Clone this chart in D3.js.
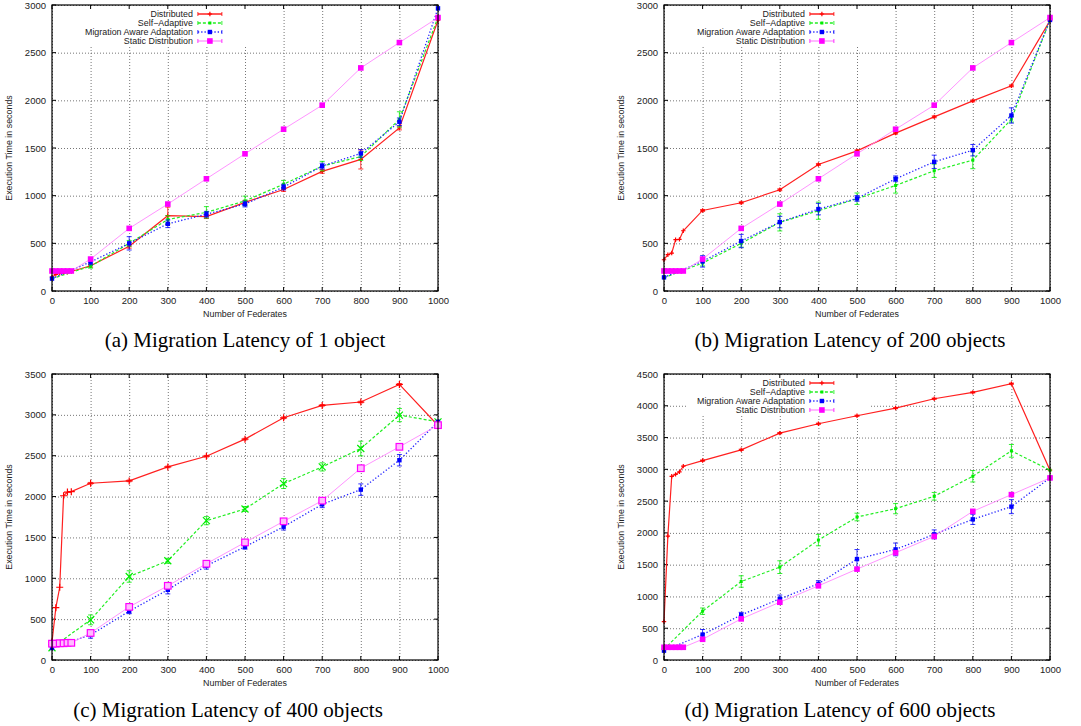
<!DOCTYPE html>
<html>
<head>
<meta charset="utf-8">
<script src="https://cdn.jsdelivr.net/npm/d3@7"></script>
<style>
    body { margin: 0; background: #fff; }
    svg text { font-family: "Liberation Sans", Arial, sans-serif; fill: #222; }
    .caption { font-family: "Liberation Serif", "Times New Roman", serif; fill: #000; }
</style>
</head>
<body>
<div id="chart"></div>
<script>

/* * * * * * * * * * * * * *
*          data            *
* * * * * * * * * * * * * */

let federates = [0, 10, 20, 30, 40, 50, 100, 200, 300, 400, 500, 600, 700, 800, 900, 1000];
let seriesNames = ["Distributed", "Self\u2212Adaptive", "Migration Aware Adaptation", "Static Distribution"];

// (a) 1 object
let aDistributed    = [145, 175, 185, 190, 195, 205, 265, 470, 790, 780, 930, 1065, 1255, 1380, 1710, 2840];
let aSelfAdaptive   = [130, null, null, null, null, null, 260, 500, 750, 825, 945, 1120, 1310, 1410, 1800, 2870];
let aMigrationAware = [130, null, null, null, null, null, 305, 500, 705, 805, 912, 1090, 1310, 1443, 1775, 2965];
let aStatic         = [210, 210, 210, 210, 210, 210, 335, 657, 912, 1177, 1439, 1697, 1949, 2340, 2606, 2868];
let aErrDistributed    = [0, 0, 0, 0, 0, 0, 15, 20, 90, 20, 20, 20, 20, 100, 20, 0];
let aErrSelfAdaptive   = [0, 0, 0, 0, 0, 0, 20, 30, 40, 60, 50, 40, 50, 40, 80, 0];
let aErrMigrationAware = [0, 0, 0, 0, 0, 0, 30, 70, 40, 30, 30, 30, 30, 40, 40, 0];

// (b) 200 objects
let bDistributed    = [328, 381, 398, 538, 541, 632, 845, 926, 1062, 1327, 1470, 1656, 1827, 1994, 2152, 2836];
let bSelfAdaptive   = [140, null, null, null, null, null, 293, 500, 720, 842, 968, 1107, 1261, 1373, 1802, 2843];
let bMigrationAware = [143, null, null, null, null, null, 311, 524, 723, 859, 971, 1177, 1355, 1477, 1841, 2843];
let bStatic         = [210, 210, 210, 210, 210, 210, 335, 657, 912, 1177, 1439, 1697, 1949, 2340, 2606, 2868];
let bErrDistributed    = [0, 0, 0, 0, 0, 0, 10, 10, 10, 10, 10, 10, 10, 10, 10, 0];
let bErrSelfAdaptive   = [0, 0, 0, 0, 0, 0, 30, 40, 90, 90, 60, 80, 70, 90, 30, 0];
let bErrMigrationAware = [0, 0, 0, 0, 0, 0, 60, 70, 60, 60, 30, 30, 70, 60, 80, 0];

// (c) 400 objects
let cDistributed    = [220, 640, 890, 2010, 2055, 2060, 2163, 2192, 2363, 2494, 2703, 2964, 3116, 3157, 3373, 2870];
let cSelfAdaptive   = [150, null, null, null, null, null, 491, 1022, 1214, 1705, 1848, 2159, 2363, 2588, 2997, 2915];
let cMigrationAware = [147, null, null, null, null, null, 307, 597, 859, 1153, 1386, 1631, 1905, 2085, 2445, 2915];
let cStatic         = [200, 200, 205, 205, 210, 210, 331, 650, 908, 1178, 1439, 1697, 1950, 2347, 2609, 2874];
let cErrDistributed    = [0, 0, 0, 0, 0, 0, 10, 10, 10, 10, 10, 10, 10, 10, 10, 0];
let cErrSelfAdaptive   = [0, 0, 0, 0, 0, 0, 60, 70, 30, 50, 30, 60, 50, 90, 80, 0];
let cErrMigrationAware = [0, 0, 0, 0, 0, 0, 40, 30, 50, 40, 30, 40, 40, 70, 70, 0];

// (d) 600 objects
let dDistributed    = [604, 1950, 2890, 2920, 2960, 3050, 3138, 3307, 3570, 3717, 3843, 3964, 4111, 4211, 4348, 2986];
let dSelfAdaptive   = [170, null, null, null, null, null, 768, 1235, 1461, 1887, 2250, 2381, 2576, 2891, 3291, 2986];
let dMigrationAware = [147, null, null, null, null, null, 400, 710, 962, 1199, 1588, 1740, 1977, 2213, 2413, 2865];
let dStatic         = [200, 200, 200, 200, 200, 200, 326, 647, 909, 1167, 1430, 1688, 1945, 2339, 2602, 2865];
let dErrDistributed    = [0, 0, 0, 0, 0, 0, 10, 10, 10, 10, 10, 10, 10, 10, 10, 0];
let dErrSelfAdaptive   = [0, 0, 0, 0, 0, 0, 50, 90, 100, 90, 60, 80, 60, 90, 100, 0];
let dErrMigrationAware = [0, 0, 0, 0, 0, 0, 80, 40, 60, 50, 150, 100, 70, 80, 110, 0];

let noErr = [0, 0, 0, 0, 0, 0, 0, 0, 0, 0, 0, 0, 0, 0, 0, 0];

let xTicks = [0, 100, 200, 300, 400, 500, 600, 700, 800, 900, 1000];


/* * * * * * * * * * * * * *
*          panels          *
* * * * * * * * * * * * * */

let panels = [
    {caption: "(a) Migration Latency of 1 object", left: 52, top: 5, yMax: 3000, legend: true, big: false,
        capX: 245, capY: 347, values: [aDistributed, aSelfAdaptive, aMigrationAware, aStatic],
        errors: [aErrDistributed, aErrSelfAdaptive, aErrMigrationAware, noErr]},
    {caption: "(b) Migration Latency of 200 objects", left: 664, top: 5, yMax: 3000, legend: true, big: false,
        capX: 850, capY: 347, values: [bDistributed, bSelfAdaptive, bMigrationAware, bStatic],
        errors: [bErrDistributed, bErrSelfAdaptive, bErrMigrationAware, noErr]},
    {caption: "(c) Migration Latency of 400 objects", left: 52, top: 374, yMax: 3500, legend: false, big: true,
        capX: 228, capY: 717, values: [cDistributed, cSelfAdaptive, cMigrationAware, cStatic],
        errors: [cErrDistributed, cErrSelfAdaptive, cErrMigrationAware, noErr]},
    {caption: "(d) Migration Latency of 600 objects", left: 664, top: 374, yMax: 4500, legend: true, big: false,
        capX: 840, capY: 717, values: [dDistributed, dSelfAdaptive, dMigrationAware, dStatic],
        errors: [dErrDistributed, dErrSelfAdaptive, dErrMigrationAware, noErr]}
];

let styles = [
    {color: "#ff0000", line: "#ff2020", width: 1.2, dash: null, marker: "plus"},
    {color: "#00ee00", line: "#22ee22", width: 1.2, dash: "3,2", marker: "dot"},
    {color: "#0000ff", line: "#2222ff", width: 1.3, dash: "1.3,2", marker: "square"},
    {color: "#ff00ff", line: "#ff88ff", width: 0.9, dash: null, marker: "bigsquare"}
];

let plotW = 386, plotH = 286;

let svg = d3.select("#chart").append("svg")
    .attr("width", 1081)
    .attr("height", 726);

panels.forEach(function (p) { drawPanel(p); });


function drawMarker(g, kind, x, y, color, big) {
    let s = big ? 3.5 : 2.2;
    if (kind === "plus" || (big && kind === "dot")) {
        let path = kind === "plus"
            ? `M${x - s},${y}H${x + s}M${x},${y - s}V${y + s}`
            : `M${x - s},${y - s}L${x + s},${y + s}M${x - s},${y + s}L${x + s},${y - s}`;
        g.append("path").attr("d", path).attr("stroke", color).attr("stroke-width", 1.2).attr("fill", "none");
    } else if (kind === "dot") {
        g.append("rect").attr("x", x - 1.5).attr("y", y - 1.5).attr("width", 3).attr("height", 3).attr("fill", color);
    } else if (kind === "square") {
        g.append("rect").attr("x", x - 2.2).attr("y", y - 2.2).attr("width", 4.4).attr("height", 4.4).attr("fill", color);
    } else {
        if (big) {
            g.append("rect").attr("x", x - 3.3).attr("y", y - 3.3).attr("width", 6.6).attr("height", 6.6)
                .attr("fill", "#ffbbff").attr("stroke", color).attr("stroke-width", 1.2);
        } else {
            g.append("rect").attr("x", x - 2.8).attr("y", y - 2.8).attr("width", 5.6).attr("height", 5.6).attr("fill", color);
        }
    }
}


function drawPanel(p) {
    let vis = svg.append("g").attr("transform", "translate(" + p.left + "," + p.top + ")");

    let x = d3.scaleLinear().domain([0, 1000]).range([0, plotW]);
    let y = d3.scaleLinear().domain([0, p.yMax]).range([plotH, 0]);
    let yTicks = d3.range(0, p.yMax + 1, 500);

    // grid
    vis.append("g")
        .attr("class", "grid")
        .call(d3.axisLeft(y).tickValues(yTicks).tickSize(-plotW).tickFormat(""))
        .call(g => g.select(".domain").remove())
        .selectAll("line")
        .attr("stroke", "#666")
        .attr("stroke-width", 0.9)
        .attr("stroke-dasharray", "1,2");

    vis.append("g")
        .attr("transform", "translate(0," + plotH + ")")
        .call(d3.axisBottom(x).tickValues(xTicks).tickSize(-plotH).tickFormat(""))
        .call(g => g.select(".domain").remove())
        .selectAll("line")
        .attr("stroke", "#666")
        .attr("stroke-width", 0.9)
        .attr("stroke-dasharray", "1,2");

    // legend background hides grid behind it
    if (p.legend) {
        vis.append("rect")
            .attr("x", plotW * 0.06)
            .attr("y", 1)
            .attr("width", plotW * 0.5 - plotW * 0.06 + 12)
            .attr("height", 40)
            .attr("fill", "#fff");
    }

    // tick labels
    vis.append("g")
        .call(d3.axisLeft(y).tickValues(yTicks).tickSize(0).tickPadding(6).tickFormat(d3.format("d")))
        .call(g => g.select(".domain").remove())
        .selectAll("text")
        .style("font-size", "9.5px")
        .attr("fill", "#222");

    vis.append("g")
        .attr("transform", "translate(0," + plotH + ")")
        .call(d3.axisBottom(x).tickValues(xTicks).tickSize(0).tickPadding(6).tickFormat(d3.format("d")))
        .call(g => g.select(".domain").remove())
        .selectAll("text")
        .style("font-size", "9.5px")
        .attr("fill", "#222");

    // small inward ticks, mirrored
    yTicks.forEach(function (t) {
        vis.append("line").attr("x1", 0).attr("x2", 4).attr("y1", y(t)).attr("y2", y(t)).attr("stroke", "#000");
        vis.append("line").attr("x1", plotW - 4).attr("x2", plotW).attr("y1", y(t)).attr("y2", y(t)).attr("stroke", "#000");
    });
    xTicks.forEach(function (t) {
        vis.append("line").attr("x1", x(t)).attr("x2", x(t)).attr("y1", plotH).attr("y2", plotH - 4).attr("stroke", "#000");
        vis.append("line").attr("x1", x(t)).attr("x2", x(t)).attr("y1", 0).attr("y2", 4).attr("stroke", "#000");
    });

    // series
    let line = d3.line().x(d => x(d.x)).y(d => y(d.y));

    p.values.forEach(function (vals, i) {
        let st = styles[i];
        let pts = federates.map(function (f, j) {
            return {x: f, y: vals[j], e: p.errors[i][j]};
        }).filter(d => d.y !== null);

        let g = vis.append("g");

        g.append("path")
            .datum(pts)
            .attr("d", line)
            .attr("fill", "none")
            .attr("stroke", st.line)
            .attr("stroke-width", st.width)
            .attr("stroke-dasharray", st.dash);

        pts.filter(d => d.e > 0).forEach(function (d) {
            let cx = x(d.x), y1 = y(d.y - d.e), y2 = y(d.y + d.e);
            g.append("path")
                .attr("d", `M${cx},${y1}V${y2}M${cx - 2.5},${y1}H${cx + 2.5}M${cx - 2.5},${y2}H${cx + 2.5}`)
                .attr("stroke", st.color)
                .attr("stroke-width", 0.8)
                .attr("fill", "none");
        });

        pts.forEach(function (d) {
            drawMarker(g, st.marker, x(d.x), y(d.y), st.color, p.big);
        });
    });

    // frame
    vis.append("rect")
        .attr("width", plotW)
        .attr("height", plotH)
        .attr("fill", "none")
        .attr("stroke", "#000")
        .attr("stroke-width", 1.2);

    // legend
    if (p.legend) {
        let lg = vis.append("g").attr("transform", "translate(" + (plotW * 0.365) + ",9)");
        seriesNames.forEach(function (name, i) {
            let st = styles[i];
            let row = lg.append("g").attr("transform", "translate(0," + (i * 9) + ")");
            row.append("text")
                .attr("x", 0)
                .attr("y", 3)
                .attr("text-anchor", "end")
                .style("font-size", "8.9px")
                .text(name);
            row.append("line")
                .attr("x1", 5).attr("x2", 29)
                .attr("stroke", st.line)
                .attr("stroke-width", st.width + 0.3)
                .attr("stroke-dasharray", st.dash);
            row.append("path")
                .attr("d", "M5,-2V2M29,-2V2")
                .attr("stroke", st.color)
                .attr("stroke-width", 0.8);
            drawMarker(row, st.marker, 17, 0, st.color, false);
        });
    }

    // axis titles
    vis.append("text")
        .attr("x", plotW / 2)
        .attr("y", plotH + 26)
        .attr("text-anchor", "middle")
        .style("font-size", "8.9px")
        .text("Number of Federates");

    vis.append("text")
        .attr("transform", "translate(" + (-40) + "," + (plotH / 2) + ") rotate(-90)")
        .attr("text-anchor", "middle")
        .style("font-size", "8.9px")
        .text("Execution Time in seconds");

    // caption
    svg.append("text")
        .attr("class", "caption")
        .attr("x", p.capX)
        .attr("y", p.capY)
        .attr("text-anchor", "middle")
        .style("font-size", "21px")
        .text(p.caption);
}

</script>
</body>
</html>
